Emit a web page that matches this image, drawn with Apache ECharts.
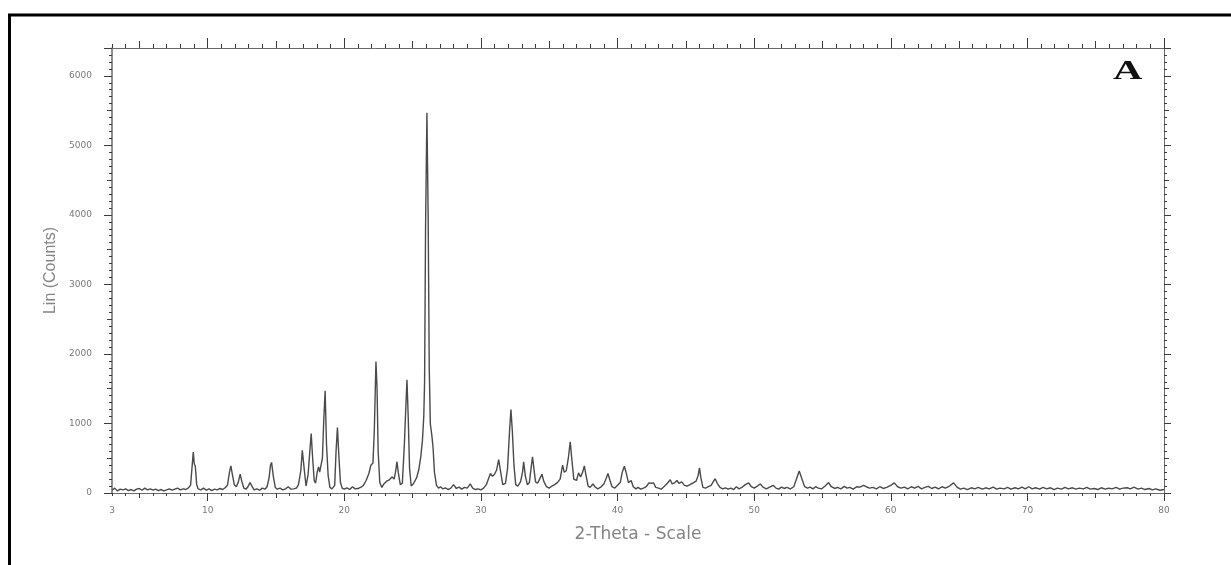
<!DOCTYPE html>
<html>
<head>
<meta charset="utf-8">
<title>XRD pattern A</title>
<script src="https://cdn.jsdelivr.net/npm/echarts@6.0.0/dist/echarts.min.js"></script>
<style>
  html, body { margin: 0; padding: 0; background: #fff; }
  #chart { width: 1231px; height: 565px; }
</style>
</head>
<body>
<div id="chart"></div>
<script>
// Diffractogram, 2-Theta (deg) against Lin (Counts)
const twoTheta = [
  3.0, 3.2, 3.4, 3.6, 3.8, 4.0, 4.2, 4.4, 4.6, 4.8, 5.0, 5.2, 5.4, 5.6, 5.8, 6.0, 6.2, 6.4, 6.6, 6.8,
  7.0, 7.2, 7.4, 7.6, 7.8, 8.0, 8.2, 8.4, 8.6,
  8.75, 8.85, 8.95, 9.02, 9.1, 9.2, 9.3,
  9.5, 9.7, 9.9, 10.1, 10.3, 10.5, 10.7, 10.9, 11.1, 11.3,
  11.45, 11.6, 11.7, 11.8, 11.95, 12.1,
  12.25, 12.38, 12.5, 12.65, 12.8,
  12.95, 13.1, 13.25, 13.4, 13.6, 13.8, 14.0, 14.2, 14.35,
  14.5, 14.6, 14.68, 14.8, 14.95, 15.1, 15.3, 15.5, 15.7, 15.9, 16.1, 16.3, 16.5, 16.65,
  16.82, 16.93, 17.05, 17.2, 17.35,
  17.48, 17.58, 17.68, 17.8, 17.9,
  18.02, 18.12, 18.2, 18.3, 18.4,
  18.5, 18.6, 18.7, 18.82, 18.95, 19.1, 19.3,
  19.4, 19.5, 19.6, 19.72, 19.85, 20.0, 20.2, 20.4, 20.6, 20.8, 21.0, 21.2, 21.4, 21.6,
  21.8, 21.95, 22.1, 22.2, 22.32, 22.4, 22.48, 22.6, 22.75,
  22.9, 23.1, 23.3, 23.5, 23.65, 23.75,
  23.86, 23.95, 24.1, 24.25, 24.4,
  24.5, 24.59, 24.68, 24.78, 24.9, 25.05,
  25.3, 25.45, 25.6, 25.72, 25.82, 25.88, 25.95, 26.05, 26.14, 26.22, 26.3, 26.42, 26.5, 26.6, 26.75,
  26.9, 27.05, 27.2, 27.4, 27.6, 27.8, 28.0, 28.2, 28.4, 28.6, 28.8, 29.0, 29.22, 29.4, 29.6, 29.8, 30.0, 30.2, 30.4,
  30.55, 30.7, 30.85, 31.0, 31.15, 31.3, 31.45, 31.6, 31.8, 31.95, 32.1,
  32.2, 32.3, 32.42, 32.55, 32.7, 32.9,
  33.05, 33.13, 33.25, 33.4, 33.55, 33.7, 33.78, 33.88, 34.0, 34.15, 34.3, 34.47, 34.6, 34.8, 35.0, 35.2, 35.4, 35.6, 35.8,
  35.98, 36.1, 36.25, 36.4, 36.54, 36.65, 36.8, 37.0, 37.15, 37.3, 37.45, 37.57, 37.7, 37.85, 38.0, 38.2, 38.35, 38.55, 38.75,
  39.0, 39.15, 39.3, 39.45, 39.6, 39.8, 40.0, 40.2, 40.35, 40.5, 40.65, 40.8, 41.0, 41.15, 41.35, 41.5, 41.7, 41.9,
  42.1, 42.3, 42.5, 42.65, 42.8, 43.0, 43.2, 43.45, 43.65, 43.86, 44.0, 44.2, 44.35, 44.5, 44.7, 44.9,
  45.1, 45.3, 45.57, 45.75, 45.9, 46.0, 46.1, 46.25, 46.45, 46.65, 46.85, 47.0, 47.15, 47.3, 47.5, 47.7, 47.9,
  48.1, 48.3, 48.5, 48.7, 48.9, 49.1, 49.35, 49.6, 49.8, 50.0, 50.2, 50.45, 50.65, 50.9, 51.1, 51.4, 51.6, 51.8,
  52.0, 52.2, 52.4, 52.65, 52.9, 53.1, 53.3, 53.5, 53.7, 53.9, 54.1, 54.3, 54.5, 54.7, 54.95,
  55.2, 55.45, 55.65, 55.9, 56.1, 56.35, 56.6, 56.8, 57.0, 57.25, 57.5, 57.75, 58.0, 58.2, 58.45, 58.7, 58.95,
  59.2, 59.45, 59.7, 60.0, 60.26, 60.5, 60.75, 61.0, 61.25, 61.5, 61.75, 62.0, 62.25, 62.5, 62.75,
  63.0, 63.25, 63.5, 63.75, 64.0, 64.3, 64.6, 64.85, 65.1, 65.35, 65.6, 65.9, 66.15, 66.4, 66.7, 66.95,
  67.2, 67.5, 67.75, 68.0, 68.3, 68.55, 68.8, 69.1, 69.35, 69.6, 69.85, 70.1, 70.35, 70.6, 70.9,
  71.15, 71.4, 71.7, 71.95, 72.2, 72.5, 72.75, 73.0, 73.3, 73.55, 73.8, 74.1, 74.35, 74.6, 74.9,
  75.15, 75.4, 75.7, 75.95, 76.2, 76.5, 76.75, 77.0, 77.3, 77.55, 77.8, 78.1, 78.35, 78.6, 78.9,
  79.15, 79.4, 79.7, 80.0
];

const linCounts = [
  40, 70, 30, 55, 45, 60, 35, 50, 30, 55, 65, 40, 70, 45, 60, 40, 55, 35, 50, 30,
  45, 60, 40, 55, 70, 45, 60, 50, 75,
  110, 350, 590, 420, 380, 120, 60,
  45, 70, 40, 60, 35, 55, 45, 65, 50, 80,
  110, 300, 390, 280, 120, 90,
  160, 270, 170, 70, 55,
  90, 150, 95, 45, 60, 40, 70, 55, 90,
  220, 400, 440, 250, 80, 55, 70, 45, 60, 90, 55, 60, 70, 120,
  320, 615, 380, 100, 260,
  600, 855, 520, 180, 140,
  300, 375, 300, 280, 500,
  1050, 1470, 700, 250, 80, 60, 110,
  600, 940, 550, 150, 70, 55, 75, 50, 90, 60, 65, 80, 110, 180,
  280, 400, 430, 900, 1890, 1500, 600, 150, 80,
  130, 170, 190, 230, 200, 300,
  450, 300, 120, 140, 700,
  1200, 1630, 1100, 350, 100, 130,
  220, 330, 520, 750, 1100, 1600, 3800, 5470, 4000, 1800, 1000, 810, 650, 300, 110,
  70, 90, 60, 75, 50, 70, 120, 65, 85, 55, 80, 70, 130, 70, 50, 60, 45, 70, 120,
  200, 280, 240, 270, 330, 480, 300, 120, 140, 350, 900,
  1200, 900, 400, 120, 100, 160,
  300, 450, 250, 120, 150, 400, 520, 350, 160, 140, 200, 270, 170, 90, 70, 100, 120, 150, 200,
  400, 300, 320, 500, 735, 500, 200, 180, 290, 230, 300, 390, 250, 100, 80, 130, 90, 60, 80,
  130, 200, 280, 180, 90, 70, 110, 150, 300, 385, 280, 150, 180, 90, 60, 80, 55, 70,
  90, 145, 140, 145, 80, 70, 55, 100, 140, 190, 130, 150, 180, 140, 160, 110,
  100, 120, 150, 170, 250, 360, 220, 80, 70, 90, 110, 160, 205, 140, 80, 60, 75,
  55, 70, 50, 90, 60, 80, 120, 145, 90, 70, 95, 130, 85, 60, 80, 110, 70, 55,
  85, 65, 80, 60, 90, 200, 315, 200, 90, 70, 85, 60, 90, 70, 60,
  100, 150, 90, 65, 80, 60, 95, 70, 80, 55, 90, 85, 110, 90, 70, 80, 60,
  90, 65, 80, 110, 145, 90, 70, 85, 60, 90, 70, 95, 60, 80, 95,
  65, 85, 60, 90, 70, 100, 145, 85, 55, 70, 50, 75, 60, 80, 55, 75,
  60, 85, 55, 70, 60, 80, 55, 75, 60, 85, 60, 90, 60, 75, 55,
  80, 60, 75, 50, 70, 55, 80, 60, 75, 55, 70, 60, 80, 55, 65,
  50, 75, 55, 70, 60, 80, 55, 70, 75, 60, 85, 55, 70, 50, 65,
  45, 60, 40, 50
];

// Axis ranges and labelled ticks
const xRange = [3, 80];
const yRange = [0, 6400];
const xLabelValues = [3, 10, 20, 30, 40, 50, 60, 70, 80];
const xMidTicks = [5, 15, 25, 35, 45, 55, 65, 75];
const xMajorTicks = [10, 20, 30, 40, 50, 60, 70, 80];
const yLabelValues = [0, 1000, 2000, 3000, 4000, 5000, 6000];

const chart = echarts.init(document.getElementById('chart'), null, { renderer: 'canvas' });

const points = twoTheta.map((t, i) => [t, linCounts[i]]);

const lineColor = '#6a6a6a';
const tickColor = '#3c3c3c';
const labelStyle = { color: '#7a7a7a', fontSize: 9, fontFamily: 'DejaVu Sans' };
const plain = v => String(v);

// One tick-only x axis (bottom or top) with a given tick set and length
function xTickAxis(position, tickOpt, length, withLine) {
  return {
    type: 'value', position: position, min: xRange[0], max: xRange[1],
    interval: tickOpt.interval, splitLine: { show: false },
    axisLine: { show: withLine, onZero: false, lineStyle: { color: lineColor, width: 1 } },
    axisTick: Object.assign({ show: true, length: length, lineStyle: { color: tickColor, width: 1 } },
      tickOpt.customValues ? { customValues: tickOpt.customValues } : {}),
    axisLabel: { show: false }
  };
}
function yTickAxis(position, interval, length, withLine) {
  return {
    type: 'value', position: position, min: yRange[0], max: yRange[1], interval: interval,
    splitLine: { show: false },
    axisLine: { show: withLine, onZero: false, lineStyle: { color: lineColor, width: 1 } },
    axisTick: { show: true, length: length, lineStyle: { color: tickColor, width: 1 } },
    axisLabel: { show: false }
  };
}

const xAxes = [
  {
    type: 'value', position: 'bottom', min: xRange[0], max: xRange[1], interval: 1,
    splitLine: { show: false },
    axisLine: { show: true, onZero: false, lineStyle: { color: lineColor, width: 1 } },
    axisTick: { show: true, length: 3, lineStyle: { color: tickColor, width: 1 } },
    axisLabel: Object.assign({ show: true, margin: 13, customValues: xLabelValues, formatter: plain }, labelStyle),
    name: '2-Theta - Scale', nameLocation: 'middle', nameGap: 33,
    nameTextStyle: { color: '#858585', fontSize: 17, fontFamily: 'DejaVu Sans' }
  },
  xTickAxis('bottom', { customValues: xMidTicks }, 5, false),
  xTickAxis('bottom', { customValues: xMajorTicks }, 8, false),
  xTickAxis('top', { interval: 1 }, 4, true),
  xTickAxis('top', { customValues: xMidTicks }, 7, false),
  xTickAxis('top', { customValues: xMajorTicks }, 10, false)
];

const yAxes = [
  {
    type: 'value', position: 'left', min: yRange[0], max: yRange[1], interval: 1000,
    splitLine: { show: false },
    axisLine: { show: true, onZero: false, lineStyle: { color: lineColor, width: 1.5 } },
    axisTick: { show: true, length: 8, lineStyle: { color: tickColor, width: 1 } },
    axisLabel: Object.assign({ show: true, margin: 20, customValues: yLabelValues, formatter: plain }, labelStyle),
    name: 'Lin (Counts)', nameLocation: 'middle', nameGap: 47, nameRotate: 90,
    nameTextStyle: { color: '#858585', fontSize: 16, fontFamily: 'Liberation Sans' }
  },
  yTickAxis('left', 500, 5, false),
  yTickAxis('left', 100, 3, false),
  yTickAxis('right', 1000, 7, true),
  yTickAxis('right', 500, 5, false),
  yTickAxis('right', 100, 3, false)
];

chart.setOption({
  animation: false,
  backgroundColor: '#ffffff',
  grid: { left: 112, right: 67, top: 48, bottom: 72, containLabel: false },
  xAxis: xAxes,
  yAxis: yAxes,
  graphic: [
    {
      type: 'rect', silent: true,
      shape: { x: 9.5, y: 15, width: 1400, height: 800 },
      style: { fill: 'none', stroke: '#000000', lineWidth: 3 }
    },
    {
      type: 'text', silent: true, x: 1113, y: 58, scaleX: 1.45,
      style: { text: 'A', font: 'bold 28px "Liberation Serif"', fill: '#111111', textVerticalAlign: 'top' }
    }
  ],
  series: [{
    type: 'line', xAxisIndex: 0, yAxisIndex: 0,
    data: points, showSymbol: false, smooth: false,
    lineStyle: { color: '#4a4a4a', width: 1.4 }
  }]
});
</script>
</body>
</html>
